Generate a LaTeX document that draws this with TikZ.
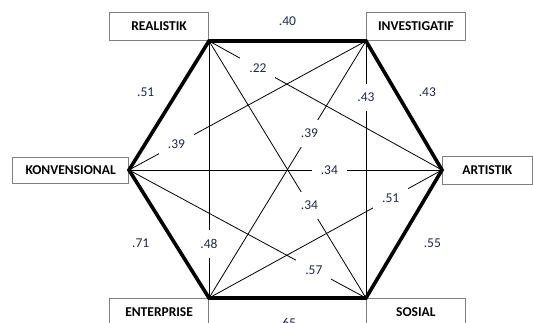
\documentclass[tikz,border=0pt]{standalone}
\usepackage{fontspec}
\setmainfont{Carlito}
\usepackage{tikz}
\usetikzlibrary{positioning}
\definecolor{ink}{HTML}{1F2A48}
\definecolor{frame}{HTML}{7F7F7F}
\tikzset{box/.style={draw=frame,line width=.8pt,fill=white,minimum width=99pt,minimum height=28pt,inner sep=0pt,font=\fontsize{13.5}{16}\selectfont\bfseries},
  hex/.style={line width=3.6pt,line join=miter},
  thin/.style={line width=.8pt},
  num/.style={font=\fontsize{13.5}{16}\selectfont,text=ink,inner sep=1pt},
  gapnum/.style={num,fill=white,inner sep=9pt}}

\begin{document}
\begin{tikzpicture}[x=1pt,y=-1pt]
\useasboundingbox (0,0) rectangle (533,323);
% the six types around the hexagon
\node[box,anchor=south east] (real) at (209,41) {REALISTIK};
\node[box,anchor=south west] (inv) at (366,41) {INVESTIGATIF};
\node[box,anchor=west,minimum width=90pt] (art) at (442,170) {ARTISTIK};
\node[box,anchor=north west] (sos) at (366,298) {SOSIAL};
\node[box,anchor=north east] (ent) at (209,298) {ENTERPRISE};
\node[box,anchor=east,minimum width=116pt,minimum height=26pt] (konv) at (129,170) {KONVENSIONAL};
% diagonals with their values
\draw[thin] (real.south east) -- node[gapnum,pos=.21] (ra) {.22} (art.west);
\draw[thin] (real.south east) -- node[gapnum,pos=.64] (rs) {.34} (sos.north west);
\draw[thin] (real.south east) -- node[gapnum,pos=.79] (re) {.48} (ent.north east);
\draw[thin] (inv.south west) -- node[gapnum,pos=.22] (is) {.43} (sos.north west);
\draw[thin] (inv.south west) -- node[gapnum,pos=.80] (ik) {.39} (konv.east);
\draw[thin] (inv.south west) -- node[gapnum,pos=.36] (ie) {.39} (ent.north east);
\draw[thin] (konv.east) -- node[gapnum,pos=.64] (ka) {.34} (art.west);
\draw[thin] (art.west) -- node[gapnum,pos=.22] (ae) {.51} (ent.north east);
\draw[thin] (konv.east) -- node[gapnum,pos=.78] (ks) {.57} (sos.north west);
% outer ring
\draw[hex] (real.south east) -- node[num,midway,above=13pt] (ri) {.40}
  (inv.south west) -- node[num,midway,above right=6pt and 12pt] (ia) {.43}
  (art.west) -- node[num,midway,right=17pt,yshift=-9pt] (as) {.55}
  (sos.north west) -- node[num,midway,below=18pt] (se) {.65}
  (ent.north east) -- node[num,midway,left=17pt,yshift=-9pt] (ek) {.71}
  (konv.east) -- node[num,midway,above left=6pt and 12pt] (kr) {.51} cycle;
\end{tikzpicture}
\end{document}
